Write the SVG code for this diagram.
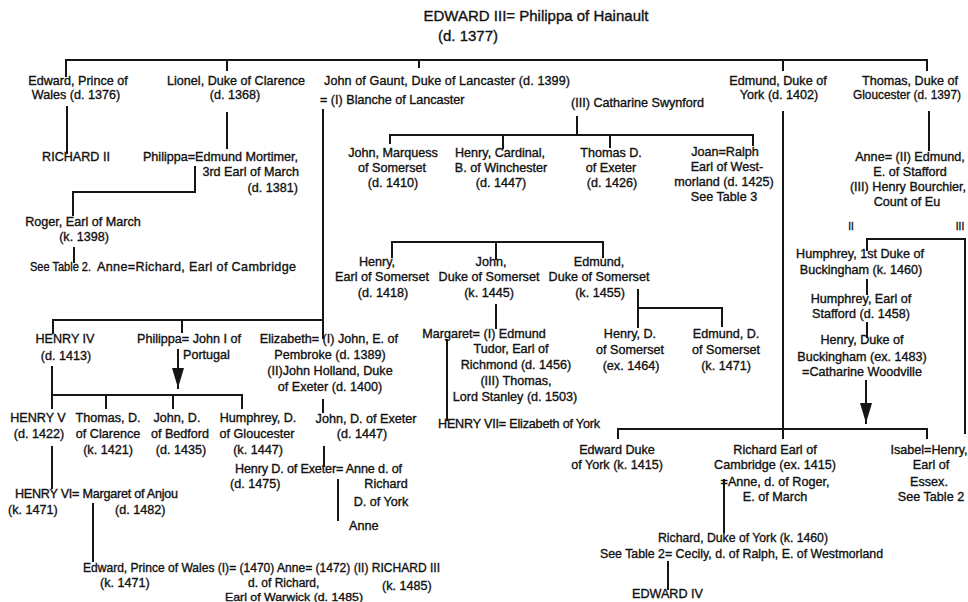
<svg xmlns="http://www.w3.org/2000/svg" width="968" height="602" viewBox="0 0 968 602">
<style>
text{font-family:"Liberation Sans",Arial,sans-serif;font-size:12.6px;fill:#111;stroke:#111;stroke-width:0.35}
.m{text-anchor:middle}
.e{text-anchor:end}
.ttl{font-size:15px}
.c path{fill:none;stroke:#151515;stroke-width:2;stroke-linecap:square}
</style>
<defs>
<marker id="arr" viewBox="0 0 20 12" refX="20" refY="6" markerWidth="20" markerHeight="12" markerUnits="userSpaceOnUse" orient="auto">
<path d="M0,0 L20,6 L0,12 z" fill="#151515"/>
</marker>
</defs>
<rect width="968" height="602" fill="#fff"/>
<g class="c" id="connectors">
<path d="M66,60 H927"/>
<path d="M66,60 V76"/>
<path d="M227,60 V70"/>
<path d="M419,60 V67"/>
<path d="M783,60 V70"/>
<path d="M927,60 V70"/>
<path d="M67,107 V153"/>
<path d="M227,113 V148"/>
<path d="M195,167 V192 H73 V215"/>
<path d="M74,248 V262"/>
<path d="M323,110 V338"/>
<path d="M53,333 V320 H323"/>
<path d="M182,320 V332"/>
<path d="M577,117 V135"/>
<path d="M390,143 V135 H753 V145"/>
<path d="M503,135 V148"/>
<path d="M610,135 V147"/>
<path d="M783,112 V438"/>
<path d="M618,438 V429 H927 V438"/>
<path d="M929,112 V150"/>
<path d="M867,250 V239 H965 V433"/>
<path d="M867,280 V294"/>
<path d="M867,323 V337"/>
<path d="M866,381 V423" marker-end="url(#arr)"/>
<path d="M178,350 V388" marker-end="url(#arr)"/>
<path d="M52,367 V408"/>
<path d="M52,395 H242 V408"/>
<path d="M106,395 V408"/>
<path d="M173,395 V408"/>
<path d="M52,447 V488"/>
<path d="M93,504 V561"/>
<path d="M323,400 V412"/>
<path d="M324,447 V465"/>
<path d="M338,480 V520"/>
<path d="M392,257 V242 H603 V257"/>
<path d="M496,242 V259"/>
<path d="M496,305 V328"/>
<path d="M638,290 V327"/>
<path d="M638,308 H722 V326"/>
<path d="M447,340 V420"/>
<path d="M724,480 V532"/>
<path d="M668,562 V589"/>
</g>
<g id="edward3">
<text class="m ttl" x="536" y="21">EDWARD III= Philippa of Hainault</text>
<text class="m ttl" x="468" y="41">(d. 1377)</text>
</g>
<g id="edward-black-prince">
<text class="m" x="78" y="85">Edward, Prince of</text>
<text class="m" x="76" y="99">Wales (d. 1376)</text>
</g>
<g id="lionel">
<text class="m" x="236" y="85">Lionel, Duke of Clarence</text>
<text class="m" x="235" y="99">(d. 1368)</text>
</g>
<g id="john-of-gaunt">
<text x="324" y="85" textLength="246" lengthAdjust="spacing">John of Gaunt, Duke of Lancaster (d. 1399)</text>
<text x="320" y="104">= (I) Blanche of Lancaster</text>
<text x="571" y="107">(III) Catharine Swynford</text>
</g>
<g id="edmund-york">
<text class="m" x="778" y="85">Edmund, Duke of</text>
<text class="m" x="779" y="99">York (d. 1402)</text>
</g>
<g id="thomas-gloucester">
<text class="m" x="910" y="85">Thomas, Duke of</text>
<text x="853" y="99" textLength="108" lengthAdjust="spacingAndGlyphs">Gloucester (d. 1397)</text>
</g>
<g id="richard2">
<text class="m" x="76" y="161">RICHARD II</text>
</g>
<g id="philippa-mortimer">
<text class="e" x="298" y="161">Philippa=Edmund Mortimer,</text>
<text class="e" x="299" y="176">3rd Earl of March</text>
<text class="e" x="298" y="192">(d. 1381)</text>
</g>
<g id="roger">
<text class="m" x="83" y="226">Roger, Earl of March</text>
<text class="m" x="84" y="241">(k. 1398)</text>
<text x="30" y="271" textLength="61" lengthAdjust="spacingAndGlyphs">See Table 2.</text>
</g>
<g id="anne-mortimer">
<text x="97" y="271" textLength="199" lengthAdjust="spacing">Anne=Richard, Earl of Cambridge</text>
</g>
<g id="john-marquess">
<text class="m" x="393" y="157">John, Marquess</text>
<text class="m" x="392" y="172">of Somerset</text>
<text class="m" x="393" y="187">(d. 1410)</text>
</g>
<g id="henry-cardinal">
<text class="m" x="500" y="157">Henry, Cardinal,</text>
<text class="m" x="501" y="172">B. of Winchester</text>
<text class="m" x="501" y="187">(d. 1447)</text>
</g>
<g id="thomas-exeter">
<text class="m" x="611" y="157">Thomas D.</text>
<text class="m" x="611" y="172">of Exeter</text>
<text class="m" x="612" y="187">(d. 1426)</text>
</g>
<g id="joan">
<text class="m" x="725" y="156">Joan=Ralph</text>
<text class="m" x="727" y="171">Earl of West-</text>
<text class="m" x="724" y="186">morland (d. 1425)</text>
<text class="m" x="724" y="201">See Table 3</text>
</g>
<g id="anne-gloucester">
<text class="m" x="910" y="161">Anne= (II) Edmund,</text>
<text class="m" x="910" y="176">E. of Stafford</text>
<text class="m" x="908" y="191">(III) Henry Bourchier,</text>
<text class="m" x="907" y="206">Count of Eu</text>
<text class="m" x="851" y="230" style="font-size:10px">II</text>
<text class="m" x="960" y="230" style="font-size:10px">III</text>
</g>
<g id="humphrey-buckingham">
<text class="m" x="860" y="258">Humphrey, 1st Duke of</text>
<text class="m" x="861" y="274">Buckingham (k. 1460)</text>
</g>
<g id="humphrey-stafford">
<text class="m" x="861" y="303">Humphrey, Earl of</text>
<text class="m" x="861" y="318">Stafford (d. 1458)</text>
</g>
<g id="henry-buckingham">
<text class="m" x="862" y="344">Henry, Duke of</text>
<text class="m" x="862" y="361">Buckingham (ex. 1483)</text>
<text class="m" x="862" y="376">=Catharine Woodville</text>
</g>
<g id="henry-somerset">
<text class="m" x="377" y="266">Henry,</text>
<text class="m" x="382" y="281">Earl of Somerset</text>
<text class="m" x="383" y="297">(d. 1418)</text>
</g>
<g id="john-somerset">
<text class="m" x="491" y="266">John,</text>
<text class="m" x="489" y="281">Duke of Somerset</text>
<text class="m" x="489" y="297">(k. 1445)</text>
</g>
<g id="edmund-somerset">
<text class="m" x="599" y="266">Edmund,</text>
<text class="m" x="599" y="281">Duke of Somerset</text>
<text class="m" x="600" y="297">(k. 1455)</text>
</g>
<g id="henry-d-somerset">
<text class="m" x="630" y="338">Henry, D.</text>
<text class="m" x="630" y="354">of Somerset</text>
<text class="m" x="631" y="370">(ex. 1464)</text>
</g>
<g id="edmund-d-somerset">
<text class="m" x="726" y="338">Edmund, D.</text>
<text class="m" x="726" y="354">of Somerset</text>
<text class="m" x="726" y="370">(k. 1471)</text>
</g>
<g id="margaret-beaufort">
<text class="m" x="484" y="338">Margaret= (I) Edmund</text>
<text class="m" x="511" y="353">Tudor, Earl of</text>
<text class="m" x="516" y="369">Richmond (d. 1456)</text>
<text class="m" x="516" y="385">(III) Thomas,</text>
<text class="m" x="515" y="401">Lord Stanley (d. 1503)</text>
</g>
<g id="henry7">
<text x="438" y="428" textLength="162" lengthAdjust="spacing">HENRY VII= Elizabeth of York</text>
</g>
<g id="henry4">
<text class="m" x="65" y="343">HENRY IV</text>
<text class="m" x="66" y="360">(d. 1413)</text>
</g>
<g id="philippa-portugal">
<text class="m" x="189" y="343">Philippa= John I of</text>
<text x="183" y="359">Portugal</text>
</g>
<g id="elizabeth">
<text class="m" x="329" y="343">Elizabeth= (I) John, E. of</text>
<text class="m" x="330" y="359">Pembroke (d. 1389)</text>
<text class="m" x="330" y="375">(II)John Holland, Duke</text>
<text class="m" x="330" y="391">of Exeter (d. 1400)</text>
</g>
<g id="john-exeter">
<text class="m" x="366" y="423">John, D. of Exeter</text>
<text class="m" x="362" y="438">(d. 1447)</text>
</g>
<g id="henry-exeter">
<text x="235" y="473" textLength="167" lengthAdjust="spacing">Henry D. of Exeter= Anne d. of</text>
<text x="230" y="488">(d. 1475)</text>
<text class="m" x="386" y="488">Richard</text>
<text class="m" x="381" y="506">D. of York</text>
</g>
<g id="anne-exeter">
<text x="349" y="530">Anne</text>
</g>
<g id="henry5">
<text class="m" x="38" y="422">HENRY V</text>
<text class="m" x="39" y="438">(d. 1422)</text>
</g>
<g id="thomas-clarence">
<text class="m" x="108" y="422">Thomas, D.</text>
<text class="m" x="108" y="438">of Clarence</text>
<text class="m" x="108" y="454">(k. 1421)</text>
</g>
<g id="john-bedford">
<text class="m" x="177" y="422">John, D.</text>
<text class="m" x="180" y="438">of Bedford</text>
<text class="m" x="181" y="454">(d. 1435)</text>
</g>
<g id="humphrey-gloucester">
<text class="m" x="258" y="422">Humphrey, D.</text>
<text class="m" x="257" y="438">of Gloucester</text>
<text class="m" x="258" y="454">(k. 1447)</text>
</g>
<g id="henry6">
<text x="15" y="498" textLength="163" lengthAdjust="spacing">HENRY VI= Margaret of Anjou</text>
<text x="8" y="514">(k. 1471)</text>
<text x="115" y="514">(d. 1482)</text>
</g>
<g id="edward-prince-anne-richard3">
<text x="83" y="572" textLength="357" lengthAdjust="spacingAndGlyphs">Edward, Prince of Wales (I)= (1470) Anne= (1472) (II) RICHARD III</text>
<text x="100" y="587">(k. 1471)</text>
<text x="248" y="587" style="font-size:12px">d. of Richard,</text>
<text x="225" y="601" textLength="138" lengthAdjust="spacingAndGlyphs" style="font-size:11.5px">Earl of Warwick (d. 1485)</text>
<text x="382" y="590">(k. 1485)</text>
</g>
<g id="edward-york">
<text class="m" x="617" y="454">Edward Duke</text>
<text class="m" x="617" y="469">of York (k. 1415)</text>
</g>
<g id="richard-cambridge">
<text class="m" x="775" y="454">Richard Earl of</text>
<text class="m" x="775" y="469">Cambridge (ex. 1415)</text>
<text class="m" x="775" y="486">=Anne, d. of Roger,</text>
<text class="m" x="775" y="501">E. of March</text>
</g>
<g id="isabel">
<text class="m" x="929" y="454">Isabel=Henry,</text>
<text class="m" x="931" y="469">Earl of</text>
<text class="m" x="929" y="486">Essex.</text>
<text class="m" x="931" y="501">See Table 2</text>
</g>
<g id="richard-york">
<text x="658" y="542" textLength="170" lengthAdjust="spacingAndGlyphs">Richard, Duke of York (k. 1460)</text>
<text x="600" y="558" textLength="283" lengthAdjust="spacingAndGlyphs">See Table 2= Cecily, d. of Ralph, E. of Westmorland</text>
</g>
<g id="edward4">
<text x="632" y="598">EDWARD IV</text>
</g>
</svg>
